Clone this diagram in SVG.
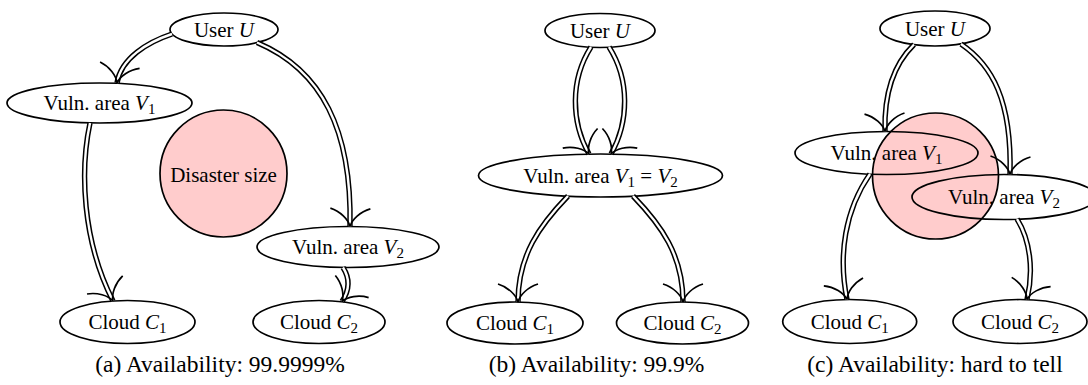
<svg xmlns="http://www.w3.org/2000/svg" width="1088" height="385" viewBox="0 0 1088 385">
<style>
text{font-family:"Liberation Serif","Times New Roman",serif;font-size:21px;fill:#000;text-anchor:middle}
.cap{font-size:23.5px}
.nd{fill:none;stroke:#000;stroke-width:1.7}
.dis{fill:#ffcccc;stroke:#000;stroke-width:1.7}
.it{font-style:italic}
.sb{font-size:15px}
.out{fill:none;stroke:#000;stroke-width:5.4}
.in{fill:none;stroke:#fff;stroke-width:2.4;marker-end:url(#imp)}
</style>
<defs>
<marker id="imp" markerUnits="userSpaceOnUse" orient="auto" markerWidth="44" markerHeight="44" refX="0" refY="0" viewBox="-22 -22 44 44" overflow="visible">
<path d="M-18,-20 C-15,-10 -7,-1.8 0,0 C-7,1.8 -15,10 -18,20" fill="none" stroke="#000" stroke-width="1.7"/>
</marker>
</defs>

<!-- panel c disaster circle (behind nodes) -->
<g id="disaster_c"><circle class="dis" cx="935.5" cy="176" r="63"/></g>

<!-- panel a -->
<g id="user_a"><ellipse class="nd" cx="224" cy="29.5" rx="54" ry="16.5"/><text x="224" y="36.5">User <tspan class="it">U</tspan></text></g>
<g id="v1_a"><ellipse class="nd" cx="99.5" cy="103" rx="92.5" ry="20"/><text x="99.5" y="110">Vuln. area <tspan class="it">V</tspan><tspan class="sb" dy="4">1</tspan></text></g>
<g id="disaster_a"><circle class="dis" cx="223.5" cy="173.5" r="63.5"/><text x="223.5" y="181.5">Disaster size</text></g>
<g id="v2_a"><ellipse class="nd" cx="348" cy="247" rx="91" ry="20.5"/><text x="348" y="254">Vuln. area <tspan class="it">V</tspan><tspan class="sb" dy="4">2</tspan></text></g>
<g id="c1_a"><ellipse class="nd" cx="127.5" cy="322" rx="67.5" ry="21.5"/><text x="127.5" y="329">Cloud <tspan class="it">C</tspan><tspan class="sb" dy="4">1</tspan></text></g>
<g id="c2_a"><ellipse class="nd" cx="319" cy="322" rx="66" ry="21.5"/><text x="319" y="329">Cloud <tspan class="it">C</tspan><tspan class="sb" dy="4">2</tspan></text></g>

<!-- panel b -->
<g id="user_b"><ellipse class="nd" cx="600" cy="30.5" rx="55" ry="17"/><text x="600" y="37.5">User <tspan class="it">U</tspan></text></g>
<g id="v_b"><ellipse class="nd" cx="600.5" cy="175.5" rx="122" ry="21.5"/><text x="600.5" y="182.5">Vuln. area <tspan class="it">V</tspan><tspan class="sb" dy="4">1</tspan><tspan dy="-4"> = </tspan><tspan class="it">V</tspan><tspan class="sb" dy="4">2</tspan></text></g>
<g id="c1_b"><ellipse class="nd" cx="515" cy="323" rx="68" ry="21"/><text x="515" y="330">Cloud <tspan class="it">C</tspan><tspan class="sb" dy="4">1</tspan></text></g>
<g id="c2_b"><ellipse class="nd" cx="682.5" cy="323" rx="66" ry="21"/><text x="682.5" y="330">Cloud <tspan class="it">C</tspan><tspan class="sb" dy="4">2</tspan></text></g>

<!-- panel c -->
<g id="user_c"><ellipse class="nd" cx="935" cy="28.5" rx="55" ry="17.5"/><text x="935" y="35.5">User <tspan class="it">U</tspan></text></g>
<g id="v1_c"><ellipse class="nd" cx="886.5" cy="153" rx="91.5" ry="21.5"/><text x="886.5" y="160">Vuln. area <tspan class="it">V</tspan><tspan class="sb" dy="4">1</tspan></text></g>
<g id="v2_c"><ellipse class="nd" cx="1004" cy="197" rx="92" ry="22.5"/><text x="1004" y="204">Vuln. area <tspan class="it">V</tspan><tspan class="sb" dy="4">2</tspan></text></g>
<g id="c1_c"><ellipse class="nd" cx="849.7" cy="321.5" rx="67" ry="22"/><text x="849.7" y="328.5">Cloud <tspan class="it">C</tspan><tspan class="sb" dy="4">1</tspan></text></g>
<g id="c2_c"><ellipse class="nd" cx="1020" cy="321.5" rx="67" ry="22"/><text x="1020" y="328.5">Cloud <tspan class="it">C</tspan><tspan class="sb" dy="4">2</tspan></text></g>

<g id="connectors">
<path class="out" d="M172,34 C148,42 121,58 117,83"/><path class="in" d="M172,34 C148,42 121,58 117,83"/>
<path class="out" d="M257,42.5 C322,70 352,130 350,226.5"/><path class="in" d="M257,42.5 C322,70 352,130 350,226.5"/>
<path class="out" d="M90,123 C80,170 82,240 113,301"/><path class="in" d="M90,123 C80,170 82,240 113,301"/>
<path class="out" d="M343,267.5 C351,280 349,291 342,301.5"/><path class="in" d="M343,267.5 C351,280 349,291 342,301.5"/>

<path class="out" d="M591,47 C570,80 571,122 589,154"/><path class="in" d="M591,47 C570,80 571,122 589,154"/>
<path class="out" d="M609,47 C630,80 629,122 611,154"/><path class="in" d="M609,47 C630,80 629,122 611,154"/>
<path class="out" d="M568,196 C540,225 518,255 518,302"/><path class="in" d="M568,196 C540,225 518,255 518,302"/>
<path class="out" d="M633,196 C661,225 683,255 683,302"/><path class="in" d="M633,196 C661,225 683,255 683,302"/>

<path class="out" d="M914,44.5 C893,65 884,95 885,131.5"/><path class="in" d="M914,44.5 C893,65 884,95 885,131.5"/>
<path class="out" d="M961,44 C992,65 1012,100 1010,174.5"/><path class="in" d="M961,44 C992,65 1012,100 1010,174.5"/>
<path class="out" d="M870,174 C845,210 838,255 847,299.5"/><path class="in" d="M870,174 C845,210 838,255 847,299.5"/>
<path class="out" d="M1017,219 C1030,240 1034,270 1027,299.5"/><path class="in" d="M1017,219 C1030,240 1034,270 1027,299.5"/>
</g>

<g id="captions">
<text class="cap" x="220" y="372">(a) Availability: 99.9999%</text>
<text class="cap" x="596.5" y="372">(b) Availability: 99.9%</text>
<text class="cap" x="935" y="372">(c) Availability: hard to tell</text>
</g>
</svg>
